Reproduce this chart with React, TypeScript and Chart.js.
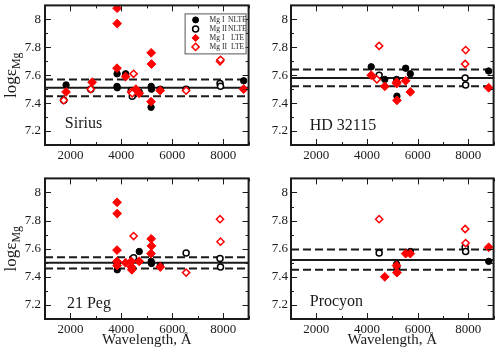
import React, { useEffect, useRef } from 'react';
import { Chart, registerables } from 'chart.js';

Chart.register(...registerables);

// ---------- data ----------
const xTicks = [2000, 4000, 6000, 8000];
const xTickLabels = ['2000', '4000', '6000', '8000'];
const xMinorTicks = [1000, 3000, 5000, 7000, 9000];
const yTicks = [7.2, 7.4, 7.6, 7.8, 8.0];
const yTickLabels = ['7.2', '7.4', '7.6', '7.8', '8'];
const yMinorTicks = [7.3, 7.5, 7.7, 7.9];
const X_MIN = 1000;
const X_MAX = 9000;
const Y_MIN = 7.1;
const Y_MAX = 8.1;

const starNames = ['Sirius', 'HD 32115', '21 Peg', 'Procyon'];
const starLabelWave = [1780, 1740, 1860, 1740];
const starLabelAbund = [7.22, 7.21, 7.18, 7.19];
const meanAbund = [7.51, 7.58, 7.5, 7.52];
const upperAbund = [7.57, 7.64, 7.54, 7.595];
const lowerAbund = [7.45, 7.52, 7.46, 7.45];

const xTitle = 'Wavelength, Å';
const yTitleMain = 'logε';
const yTitleSub = 'Mg';
const legendLabels = [
  ['Mg I', 'NLTE'],
  ['Mg II', 'NLTE'],
  ['Mg I', 'LTE'],
  ['Mg II', 'LTE'],
];

// [wavelength, log eps]
const siriusMgINLTE = [[1828, 7.53], [3829, 7.52], [3832, 7.61], [3838, 7.51], [4167, 7.61], [4571, 7.49], [4703, 7.48], [5167, 7.37], [5172, 7.52], [5183, 7.5], [5528, 7.5], [8806, 7.56]];
const siriusMgIINLTE = [[1737, 7.42], [2798, 7.5], [4390, 7.49], [4428, 7.45], [6545, 7.5], [7877, 7.54], [7896, 7.52]];
const siriusMgILTE = [[1828, 7.48], [2852, 7.55], [3829, 7.65], [3832, 8.08], [3838, 7.97], [4167, 7.59], [4571, 7.5], [4703, 7.47], [5167, 7.41], [5172, 7.76], [5183, 7.68], [5528, 7.49], [8806, 7.5]];
const siriusMgIILTE = [[1737, 7.42], [2798, 7.5], [4390, 7.48], [4428, 7.47], [4481, 7.61], [6545, 7.49], [7877, 7.7], [7896, 7.71]];

const hd32115MgINLTE = [[4167, 7.66], [4703, 7.57], [5172, 7.57], [5173, 7.555], [5183, 7.45], [5528, 7.65], [5711, 7.61], [8806, 7.63]];
const hd32115MgIINLTE = [[4481, 7.6], [7877, 7.58], [7896, 7.53]];
const hd32115MgILTE = [[4167, 7.6], [4703, 7.52], [5172, 7.55], [5173, 7.54], [5183, 7.42], [5528, 7.56], [5711, 7.48], [8806, 7.51]];
const hd32115MgIILTE = [[4390, 7.57], [4481, 7.81], [7877, 7.68], [7896, 7.78]];

const peg21MgINLTE = [[3829, 7.5], [3832, 7.48], [3838, 7.45], [4400, 7.46], [4703, 7.58], [5172, 7.51], [5183, 7.495], [5528, 7.48]];
const peg21MgIINLTE = [[4481, 7.535], [6545, 7.57], [7877, 7.53], [7896, 7.47]];
const peg21MgILTE = [[3829, 7.59], [3832, 7.93], [3838, 7.85], [3830, 7.51], [3835, 7.48], [4167, 7.5], [4390, 7.51], [4400, 7.47], [4410, 7.45], [4703, 7.51], [5167, 7.565], [5172, 7.67], [5183, 7.62], [5528, 7.47]];
const peg21MgIILTE = [[4481, 7.69], [6545, 7.43], [7877, 7.81], [7896, 7.65]];

const procyonMgINLTE = [[5172, 7.49], [5183, 7.47], [5711, 7.58], [8806, 7.51]];
const procyonMgIINLTE = [[4481, 7.57], [7877, 7.61], [7896, 7.58]];
const procyonMgILTE = [[4703, 7.4], [5167, 7.48], [5183, 7.43], [5528, 7.565], [5711, 7.565], [8806, 7.61]];
const procyonMgIILTE = [[4481, 7.81], [7877, 7.74], [7896, 7.64]];

const starSeries = [
  [siriusMgINLTE, siriusMgIINLTE, siriusMgILTE, siriusMgIILTE],
  [hd32115MgINLTE, hd32115MgIINLTE, hd32115MgILTE, hd32115MgIILTE],
  [peg21MgINLTE, peg21MgIINLTE, peg21MgILTE, peg21MgIILTE],
  [procyonMgINLTE, procyonMgIINLTE, procyonMgILTE, procyonMgIILTE],
];

// ---------- layout / style ----------
const FONT = '"Liberation Serif", "Times New Roman", serif';
const INK = '#1a1a1a';
const RED = '#ff0000';

const panelLayout = [
  { left: 0, top: 0, w: 254, h: 175, yW: 45, padTop: 1, padRight: 3, xH: 30, yTitle: true, xTitle: false, legend: true, yPad: 4 },
  { left: 254, top: 0, w: 245, h: 175, yW: 37, padTop: 1, padRight: 1, xH: 30, yTitle: false, xTitle: false, legend: false, yPad: 3 },
  { left: 0, top: 173, w: 254, h: 180, yW: 45, padTop: 2, padRight: 3, xH: 34, yTitle: true, xTitle: true, legend: false, yPad: 4 },
  { left: 254, top: 173, w: 245, h: 180, yW: 37, padTop: 2, padRight: 1, xH: 34, yTitle: false, xTitle: true, legend: false, yPad: 3 },
];

const seriesStyles = [
  { pointStyle: 'circle', pointRadius: 3.2, backgroundColor: '#000', borderColor: '#000', borderWidth: 1, order: 4 },
  { pointStyle: 'circle', pointRadius: 3, backgroundColor: '#fff', borderColor: '#000', borderWidth: 1.5, order: 3 },
  { pointStyle: 'rectRot', pointRadius: 4.4, backgroundColor: RED, borderColor: RED, borderWidth: 1, order: 2 },
  { pointStyle: 'rectRot', pointRadius: 3.6, backgroundColor: '#fff', borderColor: RED, borderWidth: 1.5, order: 1 },
];

function drawMarker(ctx: CanvasRenderingContext2D, kind: number, x: number, y: number, r: number) {
  const st = seriesStyles[kind];
  ctx.save();
  ctx.beginPath();
  if (st.pointStyle === 'circle') {
    ctx.arc(x, y, r, 0, Math.PI * 2);
  } else {
    ctx.moveTo(x, y - r);
    ctx.lineTo(x + r, y);
    ctx.lineTo(x, y + r);
    ctx.lineTo(x - r, y);
    ctx.closePath();
  }
  ctx.fillStyle = st.backgroundColor;
  ctx.fill();
  ctx.lineWidth = st.borderWidth;
  ctx.strokeStyle = st.borderColor;
  ctx.stroke();
  ctx.restore();
}

const decorPlugin = {
  id: 'decor',
  afterDatasetsDraw(chart: any, _args: any, opts: any) {
    const { ctx, chartArea } = chart;
    const xs = chart.scales.x;
    const ys = chart.scales.y;
    const { left, right, top, bottom } = chartArea;
    ctx.save();
    // inward ticks on all sides
    ctx.strokeStyle = INK;
    ctx.lineWidth = 1;
    ctx.beginPath();
    const xt = (vals: number[], len: number) => {
      vals.forEach((v) => {
        const p = Math.round(xs.getPixelForValue(v)) + 0.5;
        ctx.moveTo(p, bottom);
        ctx.lineTo(p, bottom - len);
        ctx.moveTo(p, top);
        ctx.lineTo(p, top + len);
      });
    };
    const yt = (vals: number[], len: number) => {
      vals.forEach((v) => {
        const p = Math.round(ys.getPixelForValue(v)) + 0.5;
        ctx.moveTo(left, p);
        ctx.lineTo(left + len, p);
        ctx.moveTo(right, p);
        ctx.lineTo(right - len, p);
      });
    };
    xt(xTicks, 6);
    xt(xMinorTicks, 3);
    yt(yTicks, 6);
    yt(yMinorTicks, 3);
    ctx.stroke();
    // frame
    ctx.lineWidth = 2;
    ctx.strokeRect(left, top, right - left, bottom - top);

    // star name
    ctx.fillStyle = INK;
    ctx.font = `16px ${FONT}`;
    ctx.textAlign = 'left';
    ctx.textBaseline = 'alphabetic';
    ctx.fillText(starNames[opts.idx], xs.getPixelForValue(starLabelWave[opts.idx]), ys.getPixelForValue(starLabelAbund[opts.idx]));

    // y title with subscript
    if (opts.yTitle) {
      ctx.save();
      ctx.translate(16, (top + bottom) / 2);
      ctx.rotate(-Math.PI / 2);
      ctx.font = `17px ${FONT}`;
      const w1 = ctx.measureText(yTitleMain).width;
      ctx.font = `12px ${FONT}`;
      const w2 = ctx.measureText(yTitleSub).width;
      const start = -(w1 + w2) / 2;
      ctx.font = `17px ${FONT}`;
      ctx.fillText(yTitleMain, start, 0);
      ctx.font = `12px ${FONT}`;
      ctx.fillText(yTitleSub, start + w1, 4);
      ctx.restore();
    }

    // legend
    if (opts.legend) {
      const bx = right - 64;
      const by = top + 8;
      const bw = 61;
      const bh = 40;
      ctx.fillStyle = '#fff';
      ctx.fillRect(bx, by, bw, bh);
      ctx.strokeStyle = '#555';
      ctx.lineWidth = 1;
      ctx.strokeRect(bx + 0.5, by + 0.5, bw, bh);
      ctx.font = `7.5px ${FONT}`;
      ctx.textBaseline = 'middle';
      legendLabels.forEach((lab, i) => {
        const yy = by + 6.5 + i * 9;
        drawMarker(ctx, i, bx + 11, yy, i < 2 ? 3 : 3.6);
        ctx.fillStyle = INK;
        ctx.fillText(lab[0], bx + 25, yy);
        ctx.fillText(lab[1], bx + (lab[1] === 'NLTE' ? 43.5 : 46.5), yy);
      });
    }
    ctx.restore();
  },
};

function Panel({ idx }: { idx: number }) {
  const ref = useRef<HTMLCanvasElement | null>(null);
  const L = panelLayout[idx];
  useEffect(() => {
    if (!ref.current) return;
    const refLine = (v: number, dash: number[]) => ({
      type: 'line' as const,
      data: [{ x: X_MIN, y: v }, { x: X_MAX, y: v }],
      borderColor: INK,
      borderWidth: 2,
      borderDash: dash,
      pointRadius: 0,
      showLine: true,
      fill: false,
      order: 10,
    });
    const pointSets = starSeries[idx].map((pts, k) => ({
      type: 'scatter' as const,
      label: legendLabels[k].join(' '),
      data: pts.map((p) => ({ x: p[0], y: p[1] })),
      ...seriesStyles[k],
      pointBorderWidth: seriesStyles[k].borderWidth,
      pointHoverRadius: seriesStyles[k].pointRadius,
    }));
    const chart = new Chart(ref.current, {
      type: 'scatter',
      data: {
        datasets: [
          refLine(meanAbund[idx], []),
          refLine(upperAbund[idx], [8, 4]),
          refLine(lowerAbund[idx], [8, 4]),
          ...pointSets,
        ] as any,
      },
      options: {
        responsive: false,
        animation: false,
        devicePixelRatio: 1,
        layout: { padding: { top: L.padTop, right: L.padRight, left: 0, bottom: 0 } },
        plugins: {
          legend: { display: false },
          tooltip: { enabled: false },
          decor: { idx, yTitle: L.yTitle, legend: L.legend },
        } as any,
        scales: {
          x: {
            type: 'linear',
            min: X_MIN,
            max: X_MAX,
            grid: { display: false, drawTicks: false },
            border: { display: false },
            ticks: {
              font: { family: FONT, size: 13 },
              color: INK,
              padding: 3,
              maxRotation: 0,
              autoSkip: false,
              callback: (_v: any, i: number) => xTickLabels[i],
            },
            afterBuildTicks: (s: any) => {
              s.ticks = xTicks.map((v) => ({ value: v }));
            },
            afterFit: (s: any) => {
              s.height = L.xH;
              s.paddingLeft = 0;
              s.paddingRight = 0;
              s.paddingTop = 0;
              s.paddingBottom = 0;
            },
            title: {
              display: L.xTitle,
              text: xTitle,
              font: { family: FONT, size: 15 },
              color: INK,
              padding: { top: 0, bottom: 4 },
            },
          },
          y: {
            type: 'linear',
            min: Y_MIN,
            max: Y_MAX,
            grid: { display: false, drawTicks: false },
            border: { display: false },
            ticks: {
              font: { family: FONT, size: 13 },
              color: INK,
              padding: L.yPad,
              autoSkip: false,
              callback: (_v: any, i: number) => yTickLabels[i],
            },
            afterBuildTicks: (s: any) => {
              s.ticks = yTicks.map((v) => ({ value: v }));
            },
            afterFit: (s: any) => {
              s.width = L.yW;
              s.paddingLeft = 0;
              s.paddingRight = 0;
              s.paddingTop = 0;
              s.paddingBottom = 0;
            },
          },
        },
      } as any,
      plugins: [decorPlugin],
    });
    return () => chart.destroy();
  }, [idx]);
  return (
    <canvas
      ref={ref}
      width={L.w}
      height={L.h}
      style={{ position: 'absolute', left: L.left, top: L.top, width: L.w, height: L.h }}
    />
  );
}

export default function App() {
  return (
    <div style={{ position: 'absolute', left: 0, top: 0, width: 499, height: 353, background: '#fff', overflow: 'hidden' }}>
      {[0, 1, 2, 3].map((i) => (
        <Panel key={i} idx={i} />
      ))}
    </div>
  );
}
